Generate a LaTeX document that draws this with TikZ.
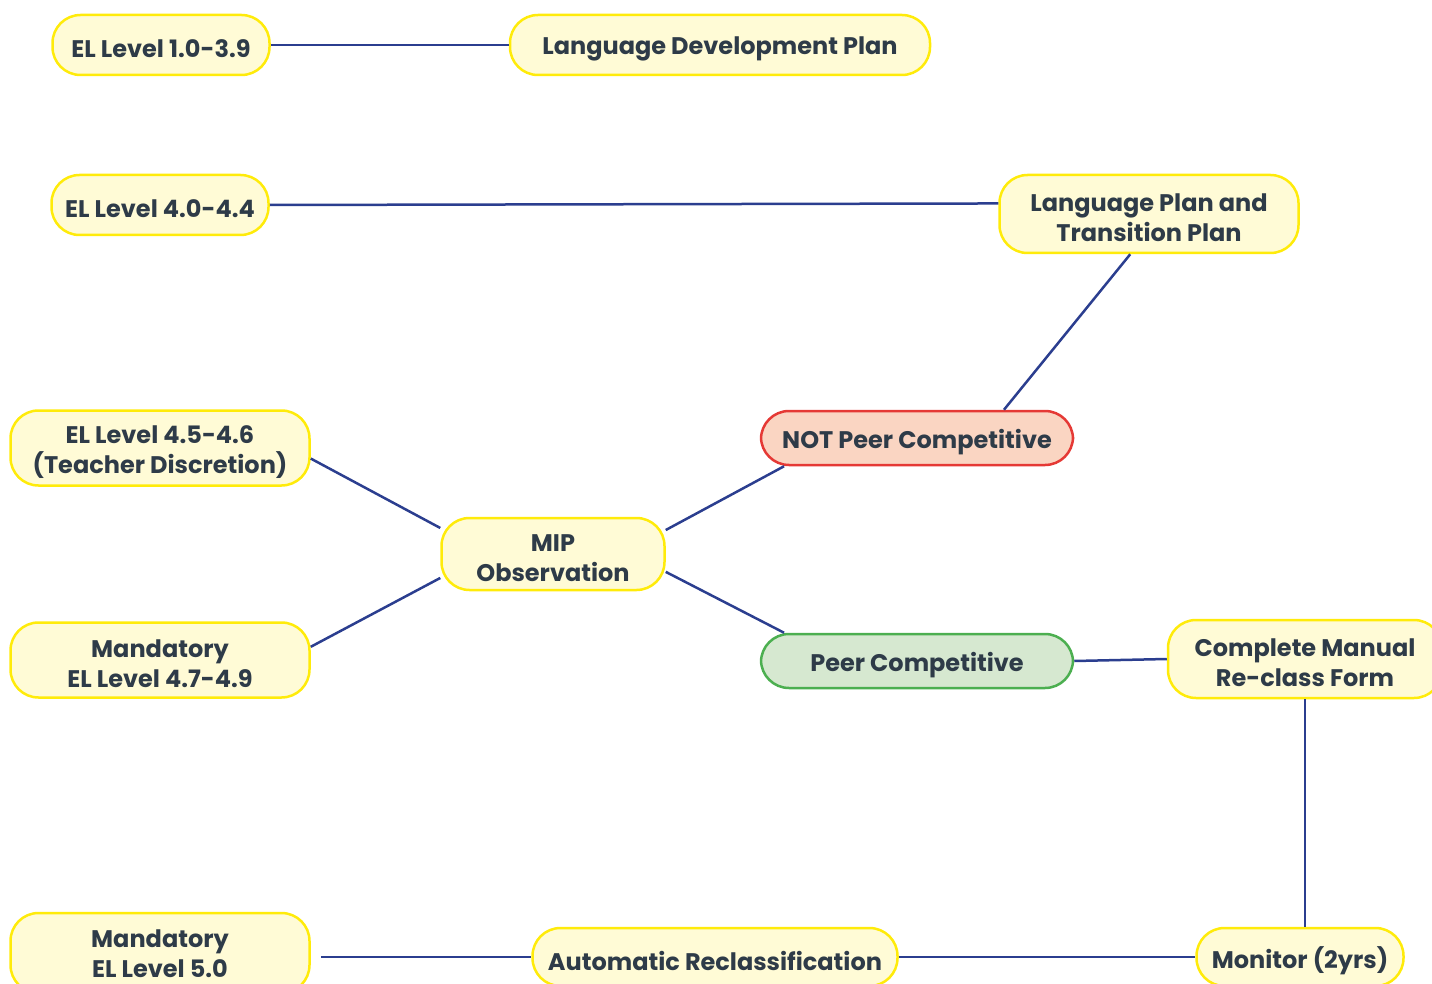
\documentclass[tikz,border=0pt]{standalone}
\usepackage{fontspec}
\setmainfont{Poppins}
\usetikzlibrary{calc}
\definecolor{txt}{HTML}{2E3B48}
\definecolor{edge}{HTML}{2B3E8F}
\definecolor{yfill}{HTML}{FFFBD6}
\definecolor{yline}{HTML}{FFEB0A}
\definecolor{rfill}{HTML}{FAD5C2}
\definecolor{rline}{HTML}{E53935}
\definecolor{gfill}{HTML}{D6E8D0}
\definecolor{gline}{HTML}{4CAF50}
\tikzset{
  box/.style={rectangle, rounded corners=28pt, line width=2.5pt, draw=yline, fill=yfill, inner sep=0pt},
  redbox/.style={box, draw=rline, fill=rfill},
  greenbox/.style={box, draw=gline, fill=gfill},
  lbl/.style={text=txt, font=\fontsize{24}{30}\selectfont\bfseries, align=center, inner sep=0pt, yshift=-4pt},
  conn/.style={draw=edge, line width=2.5pt}
}
\begin{document}
\begin{tikzpicture}[x=1pt,y=-1pt]
\useasboundingbox (0,0) rectangle (1432,984);
\clip (0,0) rectangle (1432,984);
\node[box, minimum width=217pt, minimum height=60pt] (el1) at (161,45) {};
\node[box, minimum width=420pt, minimum height=60pt] (ldp) at (720,45) {};
\node[box, minimum width=217pt, minimum height=60pt] (el40) at (160,205) {};
\node[box, minimum width=299pt, minimum height=78pt] (lptp) at (1149,214) {};
\node[box, minimum width=299pt, minimum height=75pt] (el45) at (160,448) {};
\node[redbox, minimum width=312pt, minimum height=54pt] (notpc) at (917,438) {};
\node[box, minimum width=223pt, minimum height=72pt] (mip) at (553,554) {};
\node[box, minimum width=299pt, minimum height=75pt] (m47) at (160,660) {};
\node[greenbox, minimum width=312pt, minimum height=54pt] (pc) at (917,661) {};
\node[box, minimum width=274pt, minimum height=78pt] (cmrf) at (1305,659) {};
\node[box, minimum width=299pt, minimum height=80pt] (m50) at (160,953) {};
\node[box, minimum width=365pt, minimum height=58pt] (auto) at (715,957) {};
\node[box, minimum width=207pt, minimum height=58pt] (mon) at (1300,957) {};
\node[lbl] (el1t) at (el1.center) {EL Level 1.0-3.9};
\node[lbl] (ldpt) at (ldp.center) {Language Development Plan};
\node[lbl] (el40t) at (el40.center) {EL Level 4.0-4.4};
\node[lbl] (lptpt) at (lptp.center) {Language Plan and\\Transition Plan};
\node[lbl] (el45t) at (el45.center) {EL Level 4.5-4.6\\(Teacher Discretion)};
\node[lbl] (notpct) at (notpc.center) {NOT Peer Competitive};
\node[lbl] (mipt) at (mip.center) {MIP\\Observation};
\node[lbl] (m47t) at (m47.center) {Mandatory\\EL Level 4.7-4.9};
\node[lbl] (pct) at (pc.center) {Peer Competitive};
\node[lbl] (cmrft) at (cmrf.center) {Complete Manual\\Re-class Form};
\node[lbl, yshift=3pt] (m50t) at (m50.center) {Mandatory\\EL Level 5.0};
\node[lbl] (autot) at (auto.center) {Automatic Reclassification};
\node[lbl] (mont) at (mon.center) {Monitor (2yrs)};
\coordinate (m50end) at ($(m50.east |- auto.west)+(10,0)$);
\draw[conn] (el1.east) -- (ldp.west);
\draw[conn] (el40.east) -- (lptp.176);
\draw[conn] (lptp.245) -- (notpc.18);
\draw[conn] (el45.-4) -- (mip.167);
\draw[conn] (m47.5) -- (mip.192);
\draw[conn] (mip.12) -- (notpc.192);
\draw[conn] (mip.-9) -- (pc.168);
\draw[conn] (pc.east) -- (cmrf.west);
\draw[conn] (cmrf.south) -- (cmrf.south |- mon.north);
\draw[conn] (m50end) -- (auto.west);
\draw[conn] (auto.east) -- (mon.west);
\end{tikzpicture}
\end{document}
